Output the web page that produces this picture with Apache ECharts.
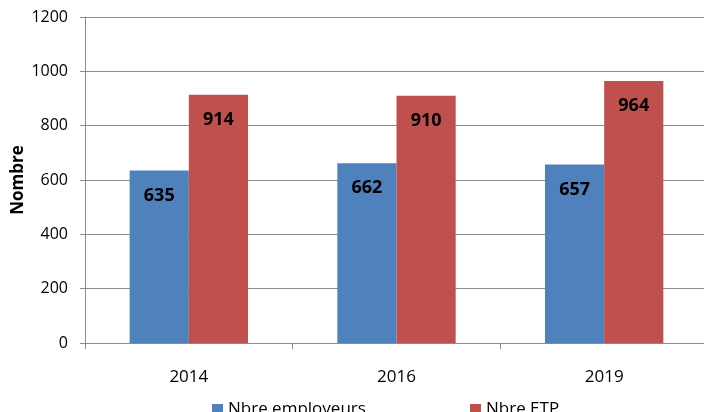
<!DOCTYPE html>
<html>
<head>
<meta charset="utf-8">
<script src="https://cdn.jsdelivr.net/npm/echarts@6/dist/echarts.min.js"></script>
<style>
  html, body { margin: 0; padding: 0; background: #fff; }
  #chart { width: 704px; height: 412px; }
</style>
</head>
<body>
<div id="chart"></div>
<script>
const years = ['2014', '2016', '2019'];
const employeurs = [635, 662, 657];
const etp = [914, 910, 964];
const yTicks = [0, 200, 400, 600, 800, 1000, 1200];

const chart = echarts.init(document.getElementById('chart'));

const font = 'Open Sans, Liberation Sans, sans-serif';
const barLabel = {
  show: true,
  position: 'insideTop',
  distance: 16,
  color: '#000',
  fontWeight: 'bold',
  fontSize: 18,
  fontFamily: font
};

chart.setOption({
  animation: false,
  grid: { left: 85, right: -4, top: 17, bottom: 69, outerBoundsMode: 'none', containLabel: false },
  legend: [
    {
      data: ['Nbre employeurs'],
      left: 207, top: 396,
      itemWidth: 11, itemHeight: 11, itemGap: 6,
      icon: 'rect',
      textStyle: { fontSize: 17, color: '#000', fontFamily: font }
    },
    {
      data: ['Nbre ETP'],
      left: 465, top: 396,
      itemWidth: 11, itemHeight: 11, itemGap: 6,
      icon: 'rect',
      textStyle: { fontSize: 17, color: '#000', fontFamily: font }
    }
  ],
  xAxis: {
    type: 'category',
    data: years,
    axisLine: { lineStyle: { color: '#8c8c8c' } },
    axisTick: { show: true, length: 6, lineStyle: { color: '#8c8c8c' } },
    axisLabel: { color: '#000', fontSize: 17, margin: 26, fontFamily: font }
  },
  yAxis: {
    type: 'value',
    min: yTicks[0],
    max: yTicks[yTicks.length - 1],
    interval: 200,
    name: 'Nombre',
    nameLocation: 'middle',
    nameGap: 58,
    nameMoveOverlap: false,
    nameTextStyle: { fontWeight: 'bold', fontSize: 17, color: '#000', fontFamily: font },
    axisLine: { show: true, lineStyle: { color: '#8c8c8c' } },
    axisTick: { show: true, length: 5, lineStyle: { color: '#8c8c8c' } },
    axisLabel: {
      color: '#000', fontSize: 16, margin: 17, fontFamily: font,
      formatter: v => String(v)
    },
    splitLine: { lineStyle: { color: '#8c8c8c', width: 1 } }
  },
  series: [
    {
      name: 'Nbre employeurs',
      type: 'bar',
      data: employeurs,
      barGap: '0%',
      barCategoryGap: '43%',
      itemStyle: { color: '#4f81bd' },
      label: barLabel
    },
    {
      name: 'Nbre ETP',
      type: 'bar',
      data: etp,
      itemStyle: { color: '#c0504d' },
      label: barLabel
    }
  ]
});
</script>
</body>
</html>
